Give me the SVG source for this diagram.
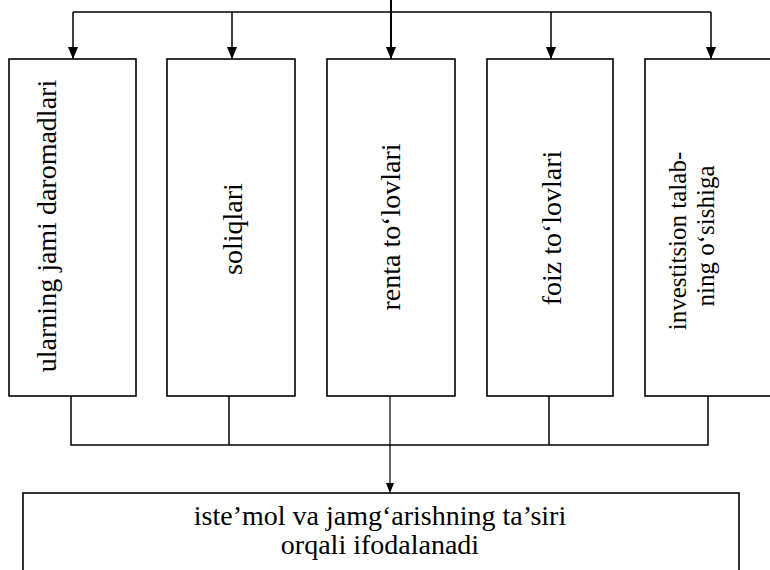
<svg xmlns="http://www.w3.org/2000/svg" width="770" height="570" viewBox="0 0 770 570">
<style>
.box{fill:#fff;stroke:#000;stroke-width:1.6}
.ln{fill:none;stroke:#000;stroke-width:1.5}
.t{font-family:"Liberation Serif","Times New Roman",serif;font-size:28px;fill:#000;text-anchor:middle}
.s{font-size:25px}
</style>
<defs>
<marker id="ah" markerUnits="userSpaceOnUse" markerWidth="12" markerHeight="12" viewBox="0 0 12 12" refX="6" refY="12" orient="auto-start-reverse">
<path d="M0,0 L12,0 L6,12 Z" fill="#000" transform="rotate(-90 6 6)"/>
</marker>
<marker id="ah2" markerUnits="userSpaceOnUse" markerWidth="8" markerHeight="10" viewBox="0 0 8 10" refX="10" refY="4" orient="auto">
<path d="M0,0 L10,4 L0,8 Z" fill="#000"/>
</marker>
<marker id="a1" markerUnits="userSpaceOnUse" markerWidth="12" markerHeight="12" viewBox="0 0 12 12" refX="12" refY="6" orient="auto">
<path d="M0,1 L12,6 L0,11 Z" fill="#000"/>
</marker>
</defs>
<g id="connectors">
<line class="ln" x1="391" y1="0" x2="391" y2="12" style="stroke-width:2"/>
<line class="ln" x1="73" y1="12" x2="711" y2="12"/>
<line class="ln" x1="73" y1="12" x2="73" y2="59" marker-end="url(#a1)"/>
<line class="ln" x1="232" y1="12" x2="232" y2="59" marker-end="url(#a1)"/>
<line class="ln" x1="391" y1="12" x2="391" y2="59" marker-end="url(#a1)" style="stroke-width:2"/>
<line class="ln" x1="551" y1="12" x2="551" y2="59" marker-end="url(#a1)"/>
<line class="ln" x1="711" y1="12" x2="711" y2="59" marker-end="url(#a1)"/>
<path class="ln" d="M71,396 V445 H708 V396 M229,396 V445 M549,396 V445"/>
<line class="ln" x1="390" y1="396" x2="390" y2="493" marker-end="url(#ah2)" style="stroke-width:1.2"/>
</g>
<g id="n1">
<rect class="box" x="9" y="59" width="127" height="337"/>
<text class="t" transform="translate(56,226) rotate(-90)">ularning jami daromadlari</text>
</g>
<g id="n2">
<rect class="box" x="167" y="59" width="128" height="337"/>
<text class="t" transform="translate(242,229) rotate(-90)">soliqlari</text>
</g>
<g id="n3">
<rect class="box" x="327" y="59" width="128" height="337"/>
<text class="t" transform="translate(400,227) rotate(-90)">renta to‘lovlari</text>
</g>
<g id="n4">
<rect class="box" x="487" y="59" width="126" height="337"/>
<text class="t" transform="translate(561,228) rotate(-90)">foiz to‘lovlari</text>
</g>
<g id="n5">
<rect class="box" x="645" y="59" width="130" height="337"/>
<text class="t s" transform="translate(686,241) rotate(-90)">investitsion talab-</text>
<text class="t s" transform="translate(714,236) rotate(-90)">ning o‘sishiga</text>
</g>
<g id="n6">
<rect class="box" x="23" y="493" width="716" height="90"/>
<text class="t" x="380" y="525">iste’mol va jamg‘arishning ta’siri</text>
<text class="t" x="380" y="554">orqali ifodalanadi</text>
</g>
</svg>
